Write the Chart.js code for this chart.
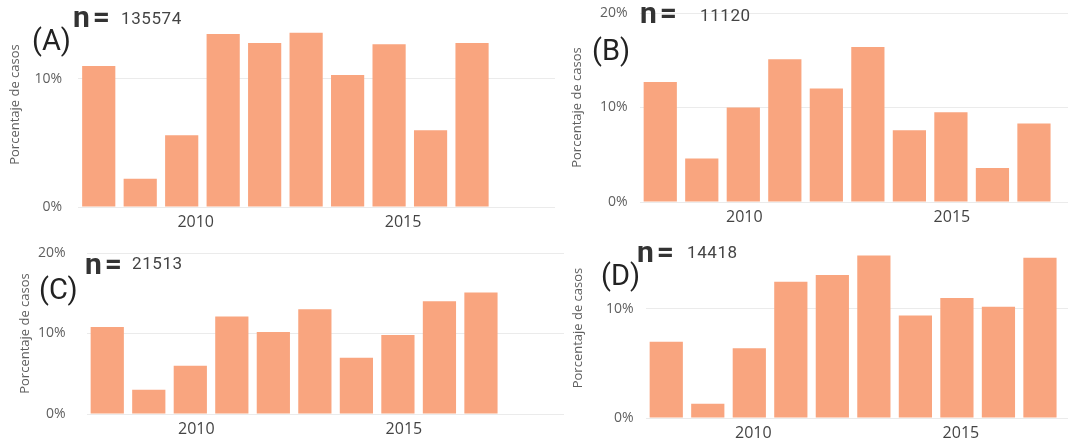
<!DOCTYPE html>
<html>
<head>
<meta charset="utf-8">
<script src="https://cdn.jsdelivr.net/npm/chart.js@4/dist/chart.umd.min.js"></script>
<style>
  html, body { margin: 0; padding: 0; background: #fff; }
  body { width: 1068px; height: 443px; overflow: hidden; position: relative; }
  .panel { position: absolute; }
  .tag { position: absolute; font-family: Roboto, "Open Sans", sans-serif; color: #222; font-size: 29px; line-height: 1; }
  .n { position: absolute; font-family: Roboto, sans-serif; font-weight: bold; color: #333; font-size: 30px; line-height: 1; letter-spacing: 3px; }
  .nval { position: absolute; font-family: Roboto, sans-serif; color: #444; font-size: 17px; line-height: 1; letter-spacing: 0.6px; }
</style>
</head>
<body>
<div class="panel" id="pA" style="left:0;top:0;width:555px;height:232px"><canvas id="cA"></canvas></div>
<div class="panel" id="pB" style="left:555px;top:0;width:562px;height:227px"><canvas id="cB"></canvas></div>
<div class="panel" id="pC" style="left:0;top:235px;width:564px;height:204px"><canvas id="cC"></canvas></div>
<div class="panel" id="pD" style="left:555px;top:236px;width:568px;height:207px"><canvas id="cD"></canvas></div>

<span class="tag" style="left:32px;top:26px">(A)</span>
<span class="n" style="left:73px;top:2px">n=</span>
<span class="nval" style="left:121px;top:10px">135574</span>

<span class="tag" style="left:592px;top:36px">(B)</span>
<span class="n" style="left:640px;top:-2px">n=</span>
<span class="nval" style="left:700px;top:7px">11120</span>

<span class="tag" style="left:39px;top:275px">(C)</span>
<span class="n" style="left:85px;top:249px">n=</span>
<span class="nval" style="left:132px;top:255px">21513</span>

<span class="tag" style="left:601px;top:261px">(D)</span>
<span class="n" style="left:637px;top:237px">n=</span>
<span class="nval" style="left:687px;top:244px">14418</span>

<script>
const years = [2008, 2009, 2010, 2011, 2012, 2013, 2014, 2015, 2016, 2017];
const pctA = [11.0, 2.2, 5.6, 13.5, 12.8, 13.6, 10.3, 12.7, 6.0, 12.8];
const pctB = [12.7, 4.6, 10.0, 15.1, 12.0, 16.4, 7.6, 9.5, 3.6, 8.3];
const pctC = [10.8, 3.0, 6.0, 12.1, 10.2, 13.0, 7.0, 9.8, 14.0, 15.1];
const pctD = [7.0, 1.3, 6.4, 12.5, 13.1, 14.9, 9.4, 11.0, 10.2, 14.7];
const xTicks = [2010, 2015];
const yTicks = [0, 10, 20];

const barColor = '#F9A57F';
const gridColor = '#ebebeb';
const textColor = '#5f5f5f';
const fontFam = '"Open Sans", "Noto Sans", sans-serif';

function createChart(id, pct, opt) {
    const ctx = document.getElementById(id);
    if (!ctx) {
        console.error(`Canvas element not found: ${id}`);
        return null;
    }

    return new Chart(ctx, {
        type: 'bar',
        data: {
            datasets: [{
                data: years.map((y, i) => ({ x: y, y: pct[i] })),
                backgroundColor: barColor,
                categoryPercentage: 1,
                barPercentage: 0.8
            }]
        },
        options: {
            responsive: true,
            maintainAspectRatio: false,
            animation: false,
            layout: { padding: { top: opt.padTop, right: 0, left: 0, bottom: 0 } },
            plugins: { legend: { display: false }, tooltip: { enabled: false } },
            scales: {
                x: {
                    type: 'linear',
                    min: 2007.5,
                    max: 2019,
                    offset: false,
                    grid: { display: false, drawTicks: false },
                    border: { display: false },
                    afterBuildTicks: scale => { scale.ticks = xTicks.map(v => ({ value: v })); },
                    afterFit: scale => {
                        scale.height = 25;
                        scale.paddingLeft = 0;
                        scale.paddingRight = 0;
                    },
                    ticks: {
                        color: '#444',
                        font: { family: fontFam, size: 16 },
                        padding: 6,
                        labelOffset: opt.labelOffset,
                        maxRotation: 0,
                        callback: v => String(v)
                    }
                },
                y: {
                    min: 0,
                    max: opt.yMax,
                    grid: { color: gridColor, drawTicks: false },
                    border: { display: false },
                    afterBuildTicks: scale => { scale.ticks = yTicks.filter(v => v <= opt.yMax).map(v => ({ value: v })); },
                    afterFit: scale => {
                        scale.width = opt.yWidth;
                        scale.paddingTop = 0;
                        scale.paddingBottom = 0;
                    },
                    ticks: {
                        color: textColor,
                        font: { family: fontFam, size: 14 },
                        padding: opt.tickPad,
                        callback: v => v + '%'
                    },
                    title: {
                        display: true,
                        text: 'Porcentaje de casos',
                        color: textColor,
                        font: { family: fontFam, size: 13 },
                        padding: { top: opt.titlePad, bottom: 0 }
                    }
                }
            }
        }
    });
}

const charts = {};
document.addEventListener('DOMContentLoaded', function() {
    charts.a = createChart('cA', pctA, { padTop: 2, yMax: 16, yWidth: 78, tickPad: 16, titlePad: 7, labelOffset: 14 });
    charts.b = createChart('cB', pctB, { padTop: 13, yMax: 20, yWidth: 84.5, tickPad: 12, titlePad: 14, labelOffset: 1 });
    charts.c = createChart('cC', pctC, { padTop: 18, yMax: 20, yWidth: 86.5, tickPad: 21, titlePad: 17, labelOffset: 6 });
    charts.d = createChart('cD', pctD, { padTop: 2, yMax: 16.5, yWidth: 90.5, tickPad: 12, titlePad: 15, labelOffset: 4 });
});
</script>
</body>
</html>
